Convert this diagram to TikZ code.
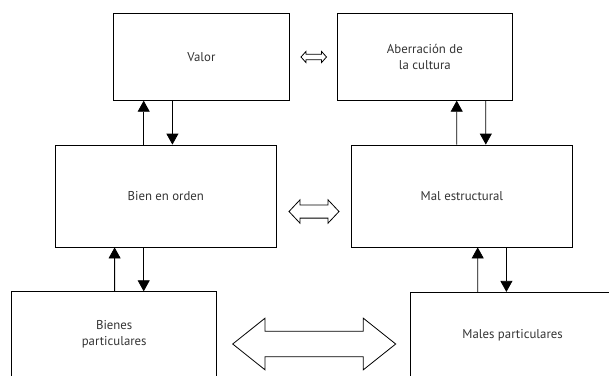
\documentclass[tikz,border=0pt]{standalone}
\usepackage{fontspec}
\setmainfont{PT Sans}
\usetikzlibrary{arrows.meta}

\tikzset{
  box/.style={draw, line width=0.8pt, inner sep=0pt, align=center,
    text=black!80, font=\fontsize{12.8}{16.6}\selectfont},
  link/.style={line width=0.8pt, -{Triangle[width=12pt,length=11pt]}},
  hollow/.style={draw, line width=0.8pt, fill=white}
}

\begin{document}
\begin{tikzpicture}[x=1pt,y=-1pt]
                    \clip (0,0) rectangle (609,375);
                    \node[box, minimum width=176pt, minimum height=87pt] (valor) at (201.4,56.8) {Valor};
                    \node[box, minimum width=175.5pt, minimum height=87pt] (aberracion) at (424.85,56.8) {Aberración de\\la cultura};
                    \node[box, minimum width=220.6pt, minimum height=102pt] (bien) at (165.8,196) {Bien en orden};
                    \node[box, minimum width=220.2pt, minimum height=102pt] (mal) at (461.9,196) {Mal estructural};
                    \node[box, minimum width=205pt, minimum height=85pt] (bienes) at (114.2,334.2) {Bienes\\particulares};
                    \node[box, minimum width=205pt, minimum height=85pt] (males) at (512.6,334.8) {Males particulares};
                    \draw[link] ([xshift=-22.1pt]bien.north) -- ([xshift=-57.7pt]valor.south);
                    \draw[link] ([xshift=-29pt]valor.south) -- ([xshift=6.6pt]bien.north);
                    \draw[link] ([xshift=-5.2pt]mal.north) -- ([xshift=31.85pt]aberracion.south);
                    \draw[link] ([xshift=60.95pt]aberracion.south) -- ([xshift=23.9pt]mal.north);
                    \draw[link] ([xshift=0.4pt]bienes.north) -- ([xshift=-51.2pt]bien.south);
                    \draw[link] ([xshift=-22.1pt]bien.south) -- ([xshift=29.5pt]bienes.north);
                    \draw[link] ([xshift=-34.9pt]males.north) -- ([xshift=15.8pt]mal.south);
                    \draw[link] ([xshift=44.5pt]mal.south) -- ([xshift=-6.2pt]males.north);
                    \draw[hollow] (301,57) -- (306,51.4) -- (306,54.2) -- (321.5,54.2) -- (321.5,51.4) -- (326.5,57)
                      -- (321.5,62.6) -- (321.5,59.8) -- (306,59.8) -- (306,62.6) -- cycle;
                    \draw[hollow] (289,211.5) -- (300,199.8) -- (300,204.9) -- (328,204.9) -- (328,199.8) -- (339,211.5)
                      -- (328,223.2) -- (328,218.1) -- (300,218.1) -- (300,223.2) -- cycle;
                    \draw[hollow] (232.7,344) -- (265,318.2) -- (265,331.2) -- (363.3,331.2) -- (363.3,318.2) -- (395.7,344)
                      -- (363.3,369.8) -- (363.3,356.8) -- (265,356.8) -- (265,369.8) -- cycle;
                \end{tikzpicture}
\end{document}
